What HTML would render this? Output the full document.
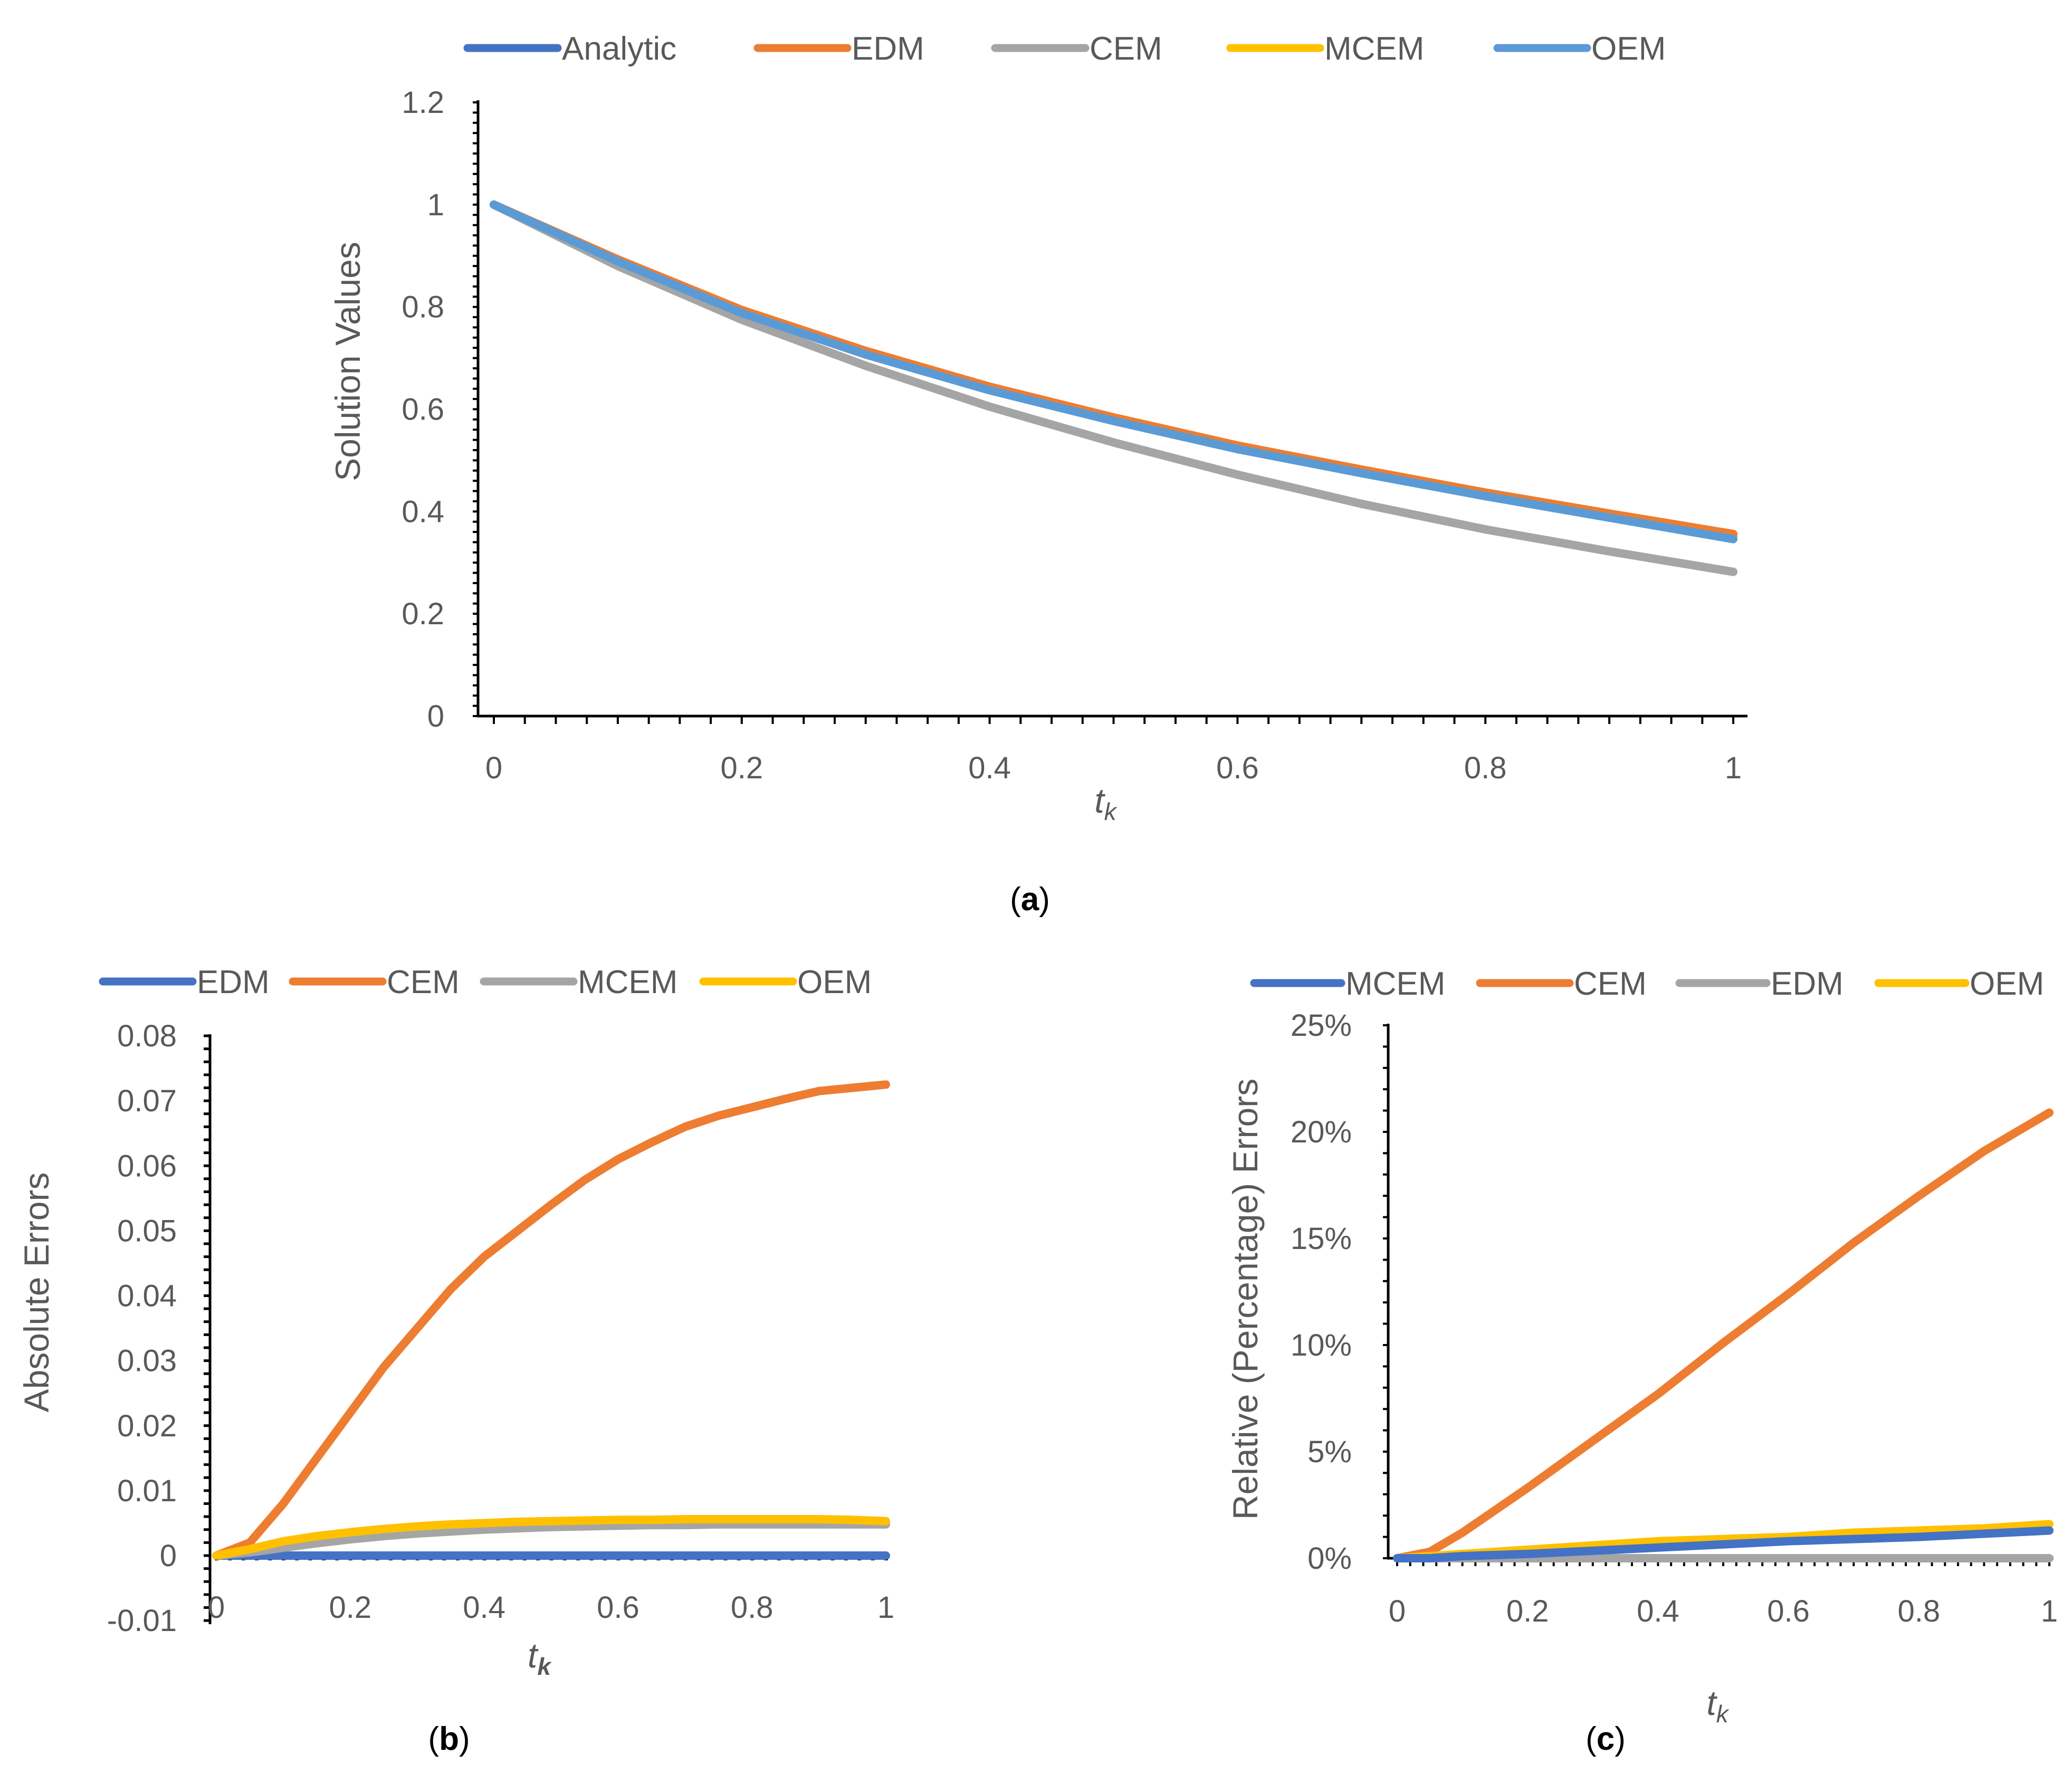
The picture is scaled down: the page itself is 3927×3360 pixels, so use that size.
<!DOCTYPE html>
<html><head><meta charset="utf-8"><style>
html,body{margin:0;padding:0;background:#fff;}
svg text{font-family:"Liberation Sans",sans-serif;}
</style></head><body>
<svg id="s" width="3927" height="3355" viewBox="0 0 3927 3355" xmlns="http://www.w3.org/2000/svg"></svg>
<script>
// ---- data (a) ----
const tA = [0,0.1,0.2,0.3,0.4,0.5,0.6,0.7,0.8,0.9,1];
const aAnalytic = [1,0.89,0.79,0.71,0.64,0.58,0.525,0.478,0.433,0.392,0.352];
const aEDM = [1,0.893,0.794,0.714,0.644,0.584,0.529,0.482,0.437,0.396,0.356];
const aCEM = [1,0.88,0.775,0.685,0.605,0.535,0.472,0.415,0.365,0.322,0.282];
const aMCEM = [1,0.891,0.792,0.712,0.642,0.582,0.527,0.48,0.435,0.394,0.354];
const aOEM = [1,0.889,0.788,0.707,0.637,0.577,0.522,0.475,0.43,0.388,0.346];
const aYTicks = [0,0.2,0.4,0.6,0.8,1,1.2];
const aXTicks = [0,0.2,0.4,0.6,0.8,1];
// ---- data (b) ----
const tB = [0,0.05,0.1,0.15,0.2,0.25,0.3,0.35,0.4,0.45,0.5,0.55,0.6,0.65,0.7,0.75,0.8,0.85,0.9,0.95,1];
const bEDM = [0,0,0,0,0,0,0,0,0,0,0,0,0,0,0,0,0,0,0,0,0];
const bCEM = [0,0.002,0.008,0.015,0.022,0.029,0.035,0.041,0.046,0.050,0.054,0.0578,0.061,0.0636,0.066,0.0677,0.069,0.0703,0.0715,0.072,0.0725];
const bMCEM = [0,0.0005,0.0012,0.0019,0.0025,0.003,0.0034,0.0037,0.004,0.0042,0.0044,0.0045,0.0046,0.0047,0.0047,0.0048,0.0048,0.0048,0.0048,0.0048,0.0048];
const bOEM = [0,0.001,0.0022,0.003,0.0036,0.0041,0.0045,0.0048,0.005,0.0052,0.0053,0.0054,0.0055,0.0055,0.0056,0.0056,0.0056,0.0056,0.0056,0.0055,0.0053];
const bYTicks = [-0.01,0,0.01,0.02,0.03,0.04,0.05,0.06,0.07,0.08];
const bXTicks = [0,0.2,0.4,0.6,0.8,1];
// ---- data (c) ----
const tC = [0,0.05,0.1,0.2,0.3,0.4,0.5,0.6,0.7,0.8,0.9,1];
const cMCEM = [0,0,0.1,0.2,0.35,0.5,0.65,0.8,0.9,1.0,1.15,1.3];
const cCEM = [0,0.3,1.2,3.3,5.5,7.7,10.1,12.4,14.8,17.0,19.1,20.9];
const cEDM = [0,0,0,0,0,0,0,0,0,0,0,0];
const cOEM = [0,0.1,0.2,0.4,0.6,0.8,0.9,1.0,1.2,1.3,1.4,1.6];
const cYTicks = [0,5,10,15,20,25];
const cXTicks = [0,0.2,0.4,0.6,0.8,1];

const NS="http://www.w3.org/2000/svg";
const svg=document.getElementById('s');
const BLUE='#4472c4',ORANGE='#ed7d31',GRAY='#a5a5a5',YEL='#ffc000',LBLUE='#5b9bd5',TXT='#595959';
function mk(tag,attrs,parent){const e=document.createElementNS(NS,tag);for(const k in attrs)e.setAttribute(k,attrs[k]);(parent||svg).appendChild(e);return e;}
function txt(s,x,y,size,anchor,parent,extra){const e=mk('text',Object.assign({x:x,y:y,'font-size':size,fill:TXT,'text-anchor':anchor||'middle'},extra||{}),parent);e.textContent=s;return e;}
function scale(d0,d1,r0,r1){return v=>r0+(v-d0)/(d1-d0)*(r1-r0);}
function series(g,xs,ys,sx,sy,color,name){
  const p=mk('polyline',{points:xs.map((t,i)=>sx(t)+','+sy(ys[i])).join(' '),fill:'none',stroke:color,'stroke-width':16,'stroke-linejoin':'round','stroke-linecap':'round'},g);
  
  
}
function legendItem(g,x1,x2,y,color,label,name){
  const gi=mk('g',{},g);
  
  
  mk('line',{x1:x1,x2:x2,y1:y,y2:y,stroke:color,'stroke-width':15,'stroke-linecap':'round'},gi);
  txt(label,x2+8,y+22,62,'start',gi);
}

// ===== Chart (a) =====
(function(){
  const g=mk('g',{});
  
  
  const sx=scale(0,1,936,3285), sy=scale(0,1.2,1357,194);
  mk('line',{x1:906,x2:906,y1:190,y2:1359,stroke:'#000','stroke-width':5},g);
  mk('line',{x1:904,x2:3312,y1:1357,y2:1357,stroke:'#000','stroke-width':5},g);
  for(let v=0;v<=1.2001;v+=0.02){mk('line',{x1:896,x2:906,y1:sy(v),y2:sy(v),stroke:'#000','stroke-width':4},g);}
  for(let v=0;v<=1.0001;v+=0.025){mk('line',{x1:sx(v),x2:sx(v),y1:1357,y2:1372,stroke:'#000','stroke-width':4},g);}
  aYTicks.forEach(v=>{const t=txt(String(v),842,sy(v)+20,58,'end',g);});
  aXTicks.forEach(v=>{const t=txt(String(v),sx(v),1475,58,'middle',g);});
  const yt=txt('Solution Values',0,0,66,'middle',g,{transform:'translate(682,685) rotate(-90)'});
  
  const xt=mk('text',{x:2095,y:1540,'font-size':66,fill:TXT,'text-anchor':'middle','font-style':'italic'},g);
  xt.innerHTML='t<tspan font-size="46" dy="14">k</tspan>';
  
  series(g,tA,aCEM,sx,sy,GRAY,'series-cem');
  series(g,tA,aAnalytic,sx,sy,BLUE,'series-analytic');
  series(g,tA,aMCEM,sx,sy,YEL,'series-mcem');
  series(g,tA,aEDM,sx,sy,ORANGE,'series-edm');
  series(g,tA,aOEM,sx,sy,LBLUE,'series-oem');
  const lg=mk('g',{},g);
  
  legendItem(lg,886,1057,91,BLUE,'Analytic','legend-entry-analytic');
  legendItem(lg,1436,1606,91,ORANGE,'EDM','legend-entry-edm');
  legendItem(lg,1886,2057,91,GRAY,'CEM','legend-entry-cem');
  legendItem(lg,2332,2502,91,YEL,'MCEM','legend-entry-mcem');
  legendItem(lg,2838,3008,91,LBLUE,'OEM','legend-entry-oem');
  const cap=mk('text',{x:1952,y:1725,'font-size':62,fill:'#000','text-anchor':'middle','font-family':'Liberation Serif'},g);
  cap.innerHTML='(<tspan font-weight="bold">a</tspan>)';
  
})();

// ===== Chart (b) =====
(function(){
  const g=mk('g',{});
  
  
  const sx=scale(0,1,410,1679), sy=scale(0,0.08,2948,1963);
  mk('line',{x1:398,x2:398,y1:1960,y2:3078,stroke:'#000','stroke-width':5},g);
  for(let v=-0.01;v<=0.0801;v+=0.002){mk('line',{x1:386,x2:398,y1:sy(v),y2:sy(v),stroke:'#000','stroke-width':5},g);}
  for(let v=0.0;v<=1.0001;v+=0.02){mk('rect',{x:sx(v)-3,y:2949,width:7,height:8,fill:'#000'},g);}
  bYTicks.forEach(v=>{const t=txt(String(v),335,sy(v)+20,58,'end',g);});
  bXTicks.forEach(v=>{const t=txt(String(v),sx(v),3066,58,'middle',g);});
  const yt=txt('Absolute Errors',0,0,66,'middle',g,{transform:'translate(92,2449) rotate(-90)'});
  
  const xt=mk('text',{x:1022,y:3160,'font-size':66,fill:TXT,'text-anchor':'middle','font-style':'italic'},g);
  xt.innerHTML='t<tspan font-size="46" dy="14" font-weight="bold">k</tspan>';
  
  series(g,tB,bEDM,sx,sy,BLUE,'series-edm');
  series(g,tB,bCEM,sx,sy,ORANGE,'series-cem');
  series(g,tB,bMCEM,sx,sy,GRAY,'series-mcem');
  series(g,tB,bOEM,sx,sy,YEL,'series-oem');
  const lg=mk('g',{},g);
  
  legendItem(lg,195,365,1860,BLUE,'EDM','legend-entry-edm');
  legendItem(lg,555,725,1860,ORANGE,'CEM','legend-entry-cem');
  legendItem(lg,917,1087,1860,GRAY,'MCEM','legend-entry-mcem');
  legendItem(lg,1333,1503,1860,YEL,'OEM','legend-entry-oem');
  const cap=mk('text',{x:851,y:3316,'font-size':62,fill:'#000','text-anchor':'middle','font-family':'Liberation Serif'},g);
  cap.innerHTML='(<tspan font-weight="bold">b</tspan>)';
  
})();

// ===== Chart (c) =====
(function(){
  const g=mk('g',{});
  
  
  const sx=scale(0,1,2648,3884), sy=scale(0,25,2953,1943);
  mk('line',{x1:2631,x2:2631,y1:1940,y2:2955,stroke:'#000','stroke-width':5},g);
  mk('line',{x1:2629,x2:3892,y1:2953,y2:2953,stroke:'#000','stroke-width':5},g);
  for(let v=0;v<=25.001;v+=1){mk('line',{x1:2621,x2:2631,y1:sy(v),y2:sy(v),stroke:'#000','stroke-width':4},g);}
  for(let v=0;v<=1.0001;v+=0.02){mk('line',{x1:sx(v),x2:sx(v),y1:2953,y2:2968,stroke:'#000','stroke-width':4},g);}
  cYTicks.forEach(v=>{const t=txt(v+'%',2562,sy(v)+20,58,'end',g);});
  cXTicks.forEach(v=>{const t=txt(String(v),sx(v),3073,58,'middle',g);});
  const yt=txt('Relative (Percentage) Errors',0,0,66,'middle',g,{transform:'translate(2383,2462) rotate(-90)'});
  
  const xt=mk('text',{x:3255,y:3250,'font-size':66,fill:TXT,'text-anchor':'middle','font-style':'italic'},g);
  xt.innerHTML='t<tspan font-size="46" dy="14">k</tspan>';
  
  series(g,tC,cEDM,sx,sy,GRAY,'series-edm');
  series(g,tC,cCEM,sx,sy,ORANGE,'series-cem');
  series(g,tC,cOEM,sx,sy,YEL,'series-oem');
  series(g,tC,cMCEM,sx,sy,BLUE,'series-mcem');
  const lg=mk('g',{},g);
  
  legendItem(lg,2377,2542,1863,BLUE,'MCEM','legend-entry-mcem');
  legendItem(lg,2805,2975,1863,ORANGE,'CEM','legend-entry-cem');
  legendItem(lg,3183,3348,1863,GRAY,'EDM','legend-entry-edm');
  legendItem(lg,3560,3725,1863,YEL,'OEM','legend-entry-oem');
  const cap=mk('text',{x:3043,y:3316,'font-size':62,fill:'#000','text-anchor':'middle','font-family':'Liberation Serif'},g);
  cap.innerHTML='(<tspan font-weight="bold">c</tspan>)';
  
})();
</script>
</body></html>
